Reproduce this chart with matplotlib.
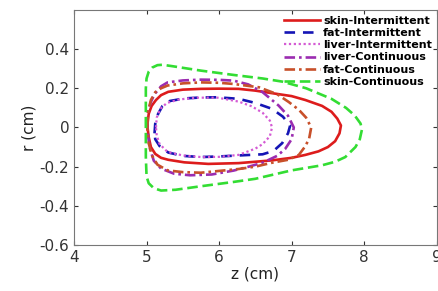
import matplotlib
matplotlib.use("Agg")
import matplotlib.pyplot as plt

labels = ["skin-Intermittent", "fat-Intermittent", "liver-Intermittent",
          "liver-Continuous", "fat-Continuous", "skin-Continuous"]

skin_int_z = [5.01, 5.03, 5.07, 5.13, 5.2, 5.3, 5.5, 5.75, 6.0, 6.27, 6.5, 6.73, 7.0, 7.19, 7.42, 7.55, 7.63, 7.68,
              7.66, 7.6, 7.5, 7.37, 7.19, 7.0, 6.73, 6.27, 5.85, 5.52, 5.3, 5.2, 5.12, 5.06, 5.03, 5.01]
skin_int_r = [0.01, 0.07, 0.11, 0.14, 0.165, 0.182, 0.193, 0.197, 0.198, 0.197, 0.188, 0.175, 0.16, 0.14, 0.11, 0.08, 0.045, 0.01,
              -0.03, -0.07, -0.1, -0.122, -0.14, -0.155, -0.168, -0.182, -0.186, -0.178, -0.165, -0.155, -0.135, -0.1, -0.05, 0.01]

fat_int_z = [5.11, 5.12, 5.16, 5.22, 5.32, 5.52, 5.75, 5.98, 6.27, 6.5, 6.73, 6.88, 6.98, 6.95, 6.87, 6.75, 6.6, 6.32,
             6.0, 5.75, 5.5, 5.3, 5.18, 5.12, 5.11]
fat_int_r = [-0.03, 0.02, 0.07, 0.11, 0.135, 0.148, 0.153, 0.154, 0.146, 0.125, 0.095, 0.055, 0.01, -0.03, -0.08, -0.12, -0.137, -0.142,
             -0.148, -0.151, -0.145, -0.128, -0.095, -0.06, -0.03]

liver_int_z = [5.13, 5.14, 5.19, 5.28, 5.45, 5.7, 5.98, 6.27, 6.45, 6.6, 6.7, 6.73, 6.7, 6.6, 6.5, 6.27, 6.0, 5.75,
               5.5, 5.29, 5.18, 5.14, 5.13]
liver_int_r = [0.0, 0.05, 0.095, 0.125, 0.143, 0.152, 0.152, 0.132, 0.108, 0.075, 0.035, 0.0, -0.045, -0.085, -0.108, -0.14, -0.15, -0.151,
               -0.143, -0.125, -0.085, -0.04, 0.0]

liver_con_z = [5.01, 5.02, 5.06, 5.11, 5.2, 5.29, 5.5, 5.75, 6.0, 6.2, 6.4, 6.6, 6.82, 6.95, 7.03, 7.0, 6.91, 6.8,
               6.6, 6.41, 6.2, 5.9, 5.6, 5.38, 5.2, 5.1, 5.04, 5.01]
liver_con_r = [0.0, 0.08, 0.13, 0.17, 0.21, 0.23, 0.24, 0.244, 0.243, 0.239, 0.22, 0.18, 0.112, 0.06, 0.0, -0.06, -0.11, -0.145,
               -0.18, -0.2, -0.22, -0.24, -0.244, -0.236, -0.21, -0.17, -0.1, 0.0]

fat_con_z = [5.01, 5.02, 5.06, 5.12, 5.2, 5.29, 5.5, 5.75, 6.0, 6.2, 6.55, 6.8, 6.96, 7.1, 7.2, 7.27, 7.24, 7.18, 7.1,
             6.95, 6.73, 6.5, 6.27, 5.75, 5.5, 5.29, 5.15, 5.07, 5.03, 5.01]
fat_con_r = [0.0, 0.08, 0.14, 0.18, 0.2, 0.214, 0.225, 0.23, 0.228, 0.222, 0.205, 0.17, 0.13, 0.09, 0.05, 0.0, -0.06, -0.1, -0.14,
             -0.165, -0.18, -0.2, -0.212, -0.231, -0.228, -0.219, -0.19, -0.14, -0.08, 0.0]

skin_con_z = [4.99, 4.99, 4.99, 5.0, 5.03, 5.08, 5.15, 5.22, 5.35, 5.75, 6.2, 6.6, 6.87, 7.2, 7.55, 7.75, 7.87, 7.95, 7.97,
              7.94, 7.88, 7.74, 7.6, 7.42, 7.0, 6.5, 6.2, 5.75, 5.4, 5.2, 5.1, 5.03, 5.0, 4.99, 4.99]
skin_con_r = [0.0, 0.1, 0.2, 0.25, 0.285, 0.306, 0.318, 0.32, 0.313, 0.29, 0.268, 0.25, 0.234, 0.2, 0.146, 0.1, 0.061, 0.02, -0.01,
              -0.06, -0.1, -0.151, -0.175, -0.193, -0.219, -0.262, -0.278, -0.3, -0.318, -0.322, -0.31, -0.285, -0.25, -0.15, 0.0]

xticks = [4, 5, 6, 7, 8, 9]
yticks = [-0.6, -0.4, -0.2, 0, 0.2, 0.4]
yticklabels = ["-0.6", "-0.4", "-0.2", "0", "0.2", "0.4"]

fig = plt.figure(figsize=(4.38, 2.91), dpi=100)
ax = fig.add_axes([0.169, 0.158, 0.828, 0.808])

common = dict(solid_joinstyle="round", dash_joinstyle="round", dash_capstyle="butt")
ax.plot(skin_int_z, skin_int_r, color="#dd1c1c", lw=1.9, ls="-", label=labels[0], **common)
ax.plot(fat_int_z, fat_int_r, color="#1515b5", lw=1.9, ls=(0, (4, 3)), label=labels[1], **common)
ax.plot(liver_int_z, liver_int_r, color="#d45ad4", lw=1.6, ls=(0, (1, 1.2)), label=labels[2], **common)
ax.plot(liver_con_z, liver_con_r, color="#9b2cb0", lw=1.9, ls=(0, (4, 1.5, 1, 1.5)), label=labels[3], **common)
ax.plot(fat_con_z, fat_con_r, color="#c8502a", lw=1.9, ls=(0, (4, 1.5, 1, 1.5)), label=labels[4], **common)
ax.plot(skin_con_z, skin_con_r, color="#33dd33", lw=1.9, ls=(0, (4, 1.8)), label=labels[5], **common)

ax.set_xlim(4, 9)
ax.set_ylim(-0.6, 0.6)
ax.set_xticks(xticks)
ax.set_yticks(yticks)
ax.set_yticklabels(yticklabels)
ax.tick_params(direction="in", top=True, right=True, labelsize=11, colors="#333333", length=3)
for s in ax.spines.values():
    s.set_color("#777777")
ax.set_xlabel("z (cm)", fontsize=11, color="#222222", labelpad=1)
ax.set_ylabel("r (cm)", fontsize=11, color="#222222", labelpad=2)

leg = ax.legend(loc="upper right", bbox_to_anchor=(1.008, 1.008), frameon=False,
                prop={"weight": "bold", "size": 8}, handlelength=3.2,
                handletextpad=0.3, labelspacing=0.2, borderpad=0.2)

fig.savefig("out.png", dpi=100)
